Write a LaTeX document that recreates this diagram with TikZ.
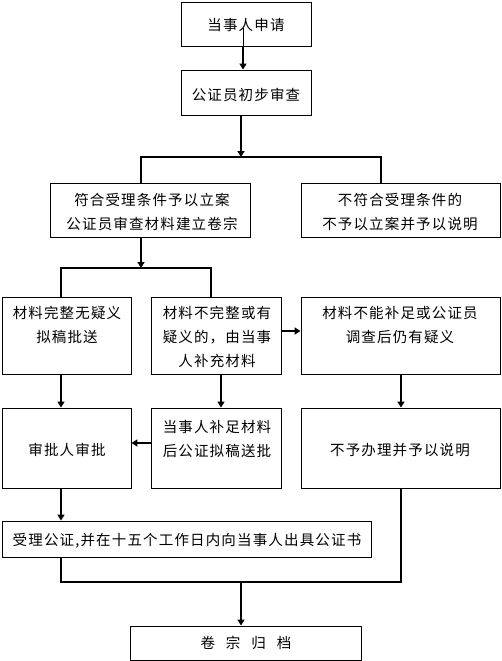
\documentclass[tikz,border=0pt]{standalone}
\usepackage{fontspec}
\newfontfamily\cjk[LetterSpace=8]{Noto Sans CJK SC}
\usetikzlibrary{arrows.meta}
\begin{document}
\begin{tikzpicture}[x=1pt,y=-1pt,
  box/.style={draw, line width=0.9pt, inner sep=0pt},
  txt/.style={align=center, inner sep=0pt, font=\cjk\fontsize{14.5}{24}\selectfont},
  conn/.style={line width=2pt},
  arr/.style={line width=2pt, -{Triangle[length=6pt,width=7pt]}},
  thinline/.style={line width=0.6pt}]
\useasboundingbox (0,0) rectangle (501,661);
% boxes
\node[box, minimum width=130pt, minimum height=44pt] (b1) at (246,24) {};
\node[box, minimum width=130pt, minimum height=45pt] (b2) at (246,92.5) {};
\node[box, minimum width=200pt, minimum height=54pt] (b3) at (150,210) {};
\node[box, minimum width=199pt, minimum height=54pt] (b4) at (400.5,210) {};
\node[box, minimum width=129pt, minimum height=77pt] (b5) at (66.5,335.5) {};
\node[box, minimum width=130pt, minimum height=77pt] (b6) at (216,335.5) {};
\node[box, minimum width=199pt, minimum height=77pt] (b7) at (400.5,335.5) {};
\node[box, minimum width=129pt, minimum height=80pt] (b8) at (66.5,448) {};
\node[box, minimum width=130pt, minimum height=80pt] (b9) at (216,448) {};
\node[box, minimum width=199pt, minimum height=80pt] (b10) at (400.5,448) {};
\node[box, minimum width=369pt, minimum height=36pt] (b11) at (186.5,539) {};
\node[box, minimum width=231pt, minimum height=34pt] (b12) at (245.5,643) {};
% texts
\node[txt] (t1) at (246,25) {当事人申请};
\node[txt] (t2) at (246,95) {公证员初步审查};
\node[txt] (t3) at (152,212) {符合受理条件予以立案\\公证员审查材料建立卷宗};
\node[txt] (t4) at (400,212) {不符合受理条件的\\不予以立案并予以说明};
\node[txt] (t5) at (67,325) {材料完整无疑义\\拟稿批送};
\node[txt] (t6) at (217,336.5) {材料不完整或有\\疑义的，由当事\\人补充材料};
\node[txt] (t7) at (400,325) {材料不能补足或公证员\\调查后仍有疑义};
\node[txt] (t8) at (67,450) {审批人审批};
\node[txt] (t9) at (217,439) {当事人补足材料\\后公证拟稿送批};
\node[txt] (t10) at (400,450) {不予办理并予以说明};
\node[txt] (t11) at (187,541) {受理公证,并在十五个工作日内向当事人出具公证书};
\node[txt] (t12) at (246,643) {卷\hspace{11pt}宗\hspace{11pt}归\hspace{11pt}档};
% helper coordinates
\coordinate (s1) at (243,28);
\coordinate (j1) at (241,157);
\coordinate (j1l) at (141,157);
\coordinate (j1r) at (381,157);
\coordinate (j2) at (141,268);
\coordinate (j2l) at (61,268);
\coordinate (j2r) at (211,268);
\coordinate (x61) at (61,0);
\coordinate (x221) at (221,0);
\coordinate (x401) at (401,0);
\coordinate (h1) at (0,331);
\coordinate (h2) at (0,443);
\coordinate (j3) at (241,582);
% connectors
\draw[thinline] (s1) -- (s1 |- b1.south);
\draw[arr] (s1 |- b1.south) -- (s1 |- b2.north);
\draw[arr] (j1 |- b2.south) -- (j1);
\draw[conn] (j1l |- b3.north) -- (j1l) -- (j1r) -- (j1r |- b4.north);
\draw[arr] (j2 |- b3.south) -- (j2);
\draw[conn] (j2l |- b5.north) -- (j2l) -- (j2r) -- (j2r |- b6.north);
\draw[arr] (b6.east |- h1) -- (b7.west |- h1);
\draw[arr] (b5.south -| x61) -- (b8.north -| x61);
\draw[arr] (b6.south -| x221) -- (b9.north -| x221);
\draw[arr] (b7.south -| x401) -- (b10.north -| x401);
\draw[arr] (b9.west |- h2) -- (b8.east |- h2);
\draw[arr] (b8.south -| x61) -- (b11.north -| x61);
\draw[conn] (b11.south -| x61) -- (x61 |- j3) -- (x401 |- j3) -- (b10.south -| x401);
\draw[arr] (j3) -- (b12.north -| j3);
\end{tikzpicture}
\end{document}
